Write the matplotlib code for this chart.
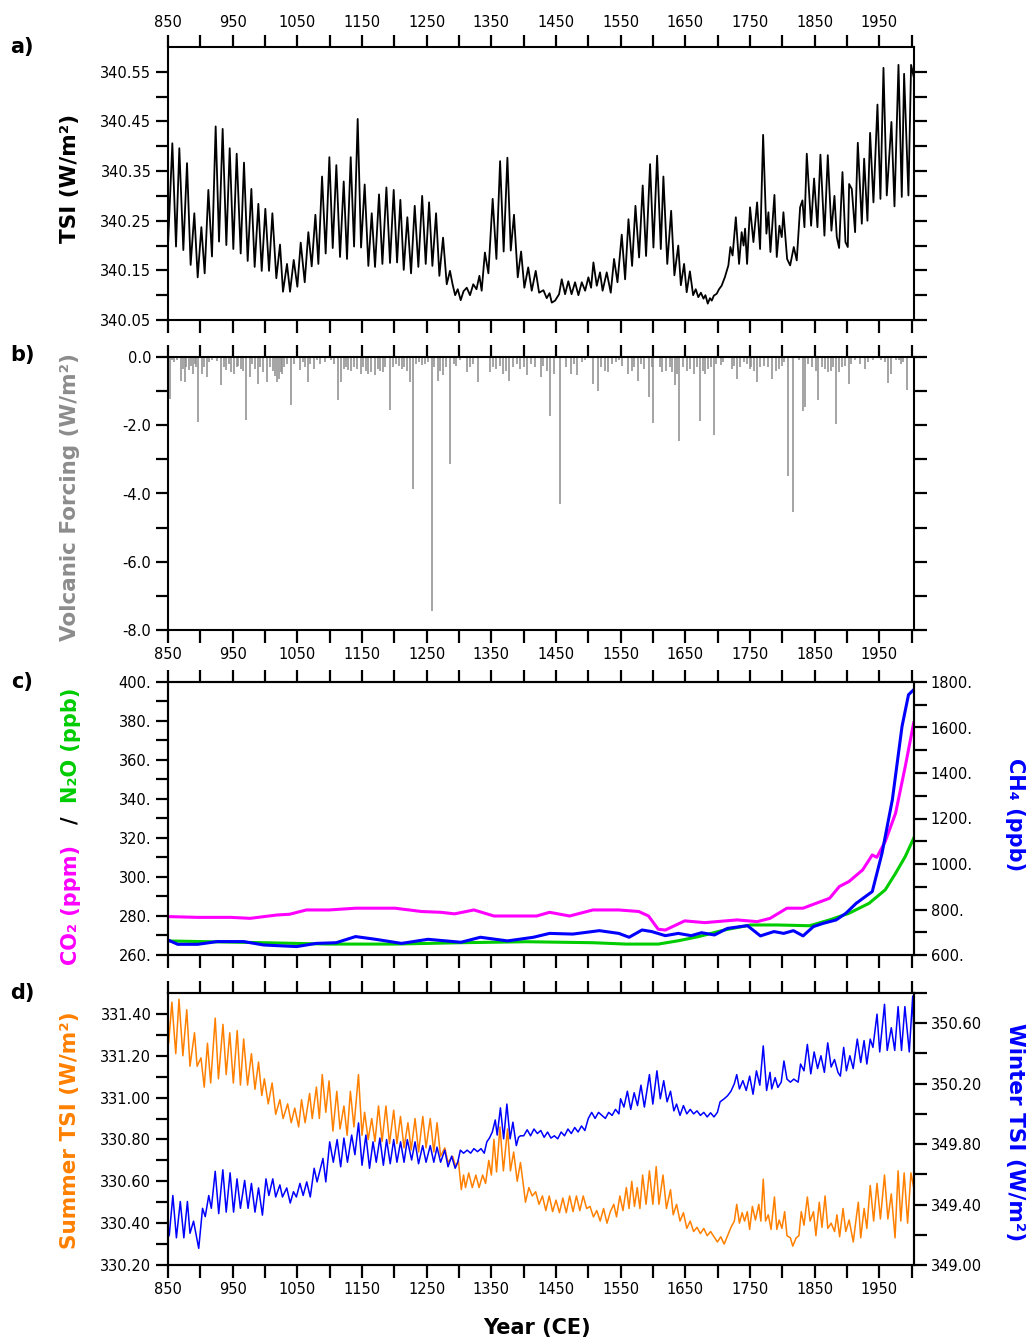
import numpy as np
import matplotlib
matplotlib.use("Agg")
import matplotlib.pyplot as plt

plt.rcParams['font.family'] = ['DejaVu Sans']

# a) total solar irradiance (cycle maxima / minima)
tsi_year = [850, 856.7, 862.4, 867.5, 873.7, 879.4, 885, 890.7, 895.9, 901.6, 906.7, 912.4, 918, 923.7,
            928.9, 934.5, 940.2, 945.4, 951, 956.2, 962.4, 967.5, 973.2, 978.9, 984, 989.7, 994.9,
            1000.5, 1006.2, 1011.4, 1017.5, 1023.2, 1027.8, 1034, 1038.7, 1044.4, 1050, 1055.2, 1061.4,
            1067, 1072.2, 1077.9, 1082.5, 1088.2, 1093.8, 1099.5, 1104.7, 1110.3, 1116, 1121.7, 1126.8,
            1132.5, 1137.7, 1143.3, 1148.5, 1154.1, 1159.8, 1165, 1170.1, 1176.3, 1181.5, 1187.7, 1193.3,
            1199, 1204.2, 1209.3, 1214.5, 1220.1, 1225.8, 1231.5, 1237.1, 1243, 1248.5, 1253.7, 1258.8,
            1264.5, 1269.6, 1275.3, 1281, 1286, 1290, 1294, 1298, 1302.6, 1307, 1312, 1317, 1322, 1327,
            1331.5, 1335, 1340, 1345.4, 1352, 1357.8, 1363.5, 1369, 1374.8, 1380, 1385, 1390.8, 1396,
            1401, 1407, 1412.4, 1418.6, 1423.8, 1430.5, 1435.6, 1440, 1443.4, 1448.5, 1454.7, 1458.8,
            1464, 1469, 1474, 1479.4, 1484.6, 1489.8, 1495, 1500, 1504.2, 1507.8, 1513, 1518, 1522,
            1528.4, 1534.6, 1539.7, 1545, 1551.6, 1556.8, 1562, 1567.6, 1572.8, 1578.4, 1584, 1589.2,
            1595.4, 1600.6, 1606.3, 1612, 1616, 1622, 1628, 1633, 1639, 1643, 1648, 1652, 1657, 1662,
            1666, 1670, 1674, 1678, 1681, 1684.6, 1688, 1690.8, 1694, 1698.5, 1702, 1706, 1711, 1716.5,
            1719.6, 1723, 1728, 1733, 1737, 1740, 1742.3, 1745.4, 1750, 1755.2, 1760.9, 1765.5, 1770.2,
            1775.3, 1778.4, 1781.5, 1787.7, 1791.3, 1795.4, 1799, 1801.6, 1807.3, 1812, 1817.6, 1822.2,
            1827.4, 1831, 1834.1, 1837.7, 1844.4, 1849, 1854.2, 1858.8, 1865, 1870.2, 1875.8, 1880.5,
            1884.1, 1887.7, 1892.9, 1897.5, 1901.1, 1903.2, 1907.3, 1912.4, 1916.6, 1922.8, 1926.4,
            1931.5, 1935.6, 1940.8, 1947, 1951.6, 1956.3, 1961.4, 1968.6, 1973.3, 1979.5, 1984.6,
            1988.2, 1994.9, 1999, 2003]
tsi_val = [340.200, 340.406, 340.198, 340.396, 340.191, 340.366, 340.161, 340.265, 340.136, 340.237,
           340.144, 340.312, 340.178, 340.440, 340.208, 340.435, 340.201, 340.396, 340.193, 340.385,
           340.184, 340.367, 340.169, 340.314, 340.157, 340.284, 340.149, 340.274, 340.149, 340.265,
           340.134, 340.202, 340.107, 340.163, 340.107, 340.171, 340.117, 340.206, 340.126, 340.227,
           340.158, 340.262, 340.163, 340.339, 340.184, 340.378, 340.195, 340.362, 340.177, 340.329,
           340.173, 340.378, 340.198, 340.455, 340.196, 340.323, 340.159, 340.265, 340.157, 340.303,
           340.163, 340.317, 340.165, 340.312, 340.166, 340.292, 340.151, 340.257, 340.144, 340.280,
           340.157, 340.300, 340.163, 340.287, 340.159, 340.265, 340.139, 340.216, 340.122, 340.149,
           340.122, 340.100, 340.112, 340.090, 340.108, 340.115, 340.100, 340.122, 340.112, 340.139,
           340.109, 340.186, 340.144, 340.294, 340.173, 340.370, 340.188, 340.377, 340.190, 340.262,
           340.136, 340.188, 340.115, 340.156, 340.109, 340.149, 340.105, 340.110, 340.094, 340.104,
           340.085, 340.089, 340.102, 340.132, 340.102, 340.128, 340.102, 340.126, 340.100, 340.126,
           340.109, 340.136, 340.115, 340.166, 340.119, 340.146, 340.109, 340.146, 340.105, 340.173,
           340.126, 340.222, 340.132, 340.253, 340.159, 340.280, 340.176, 340.321, 340.179, 340.364,
           340.196, 340.381, 340.193, 340.339, 340.163, 340.270, 340.140, 340.200, 340.120, 340.163,
           340.106, 340.148, 340.100, 340.112, 340.096, 340.105, 340.093, 340.100, 340.083, 340.094,
           340.089, 340.099, 340.103, 340.112, 340.119, 340.136, 340.160, 340.197, 340.180, 340.257,
           340.163, 340.227, 340.200, 340.234, 340.163, 340.277, 340.207, 340.287, 340.193, 340.423,
           340.224, 340.267, 340.187, 340.302, 340.177, 340.240, 340.217, 340.267, 340.173, 340.160,
           340.197, 340.170, 340.277, 340.291, 340.237, 340.385, 340.240, 340.335, 340.237, 340.383,
           340.220, 340.382, 340.230, 340.300, 340.217, 340.195, 340.348, 340.207, 340.197, 340.324,
           340.314, 340.227, 340.407, 340.244, 340.375, 340.250, 340.427, 340.287, 340.484, 340.294,
           340.558, 340.301, 340.449, 340.279, 340.564, 340.298, 340.546, 340.301, 340.564, 340.540]

# b) volcanic forcing events
volc_year = [852.7, 856, 860, 864, 869.7, 873, 876, 878, 882, 885, 888.4, 891, 893, 896.4, 901.8, 905,
             909.8, 914, 918, 925, 932.2, 936, 939.1, 944, 947, 952.4, 956, 959, 963.1, 966, 970,
             976.5, 980, 984, 989.8, 993, 997, 1003.1, 1008, 1012, 1016, 1019.2, 1021.8, 1024, 1026,
             1030, 1034, 1040.5, 1045, 1053.8, 1058, 1062, 1066.1, 1070, 1075.2, 1080, 1085, 1093,
             1102, 1106, 1112.5, 1117.9, 1122, 1125, 1128.5, 1133, 1138, 1142, 1148.8, 1152, 1156,
             1160, 1164, 1170.2, 1175, 1178, 1181.9, 1186, 1192.6, 1198, 1203, 1207, 1211.2, 1215,
             1219, 1223.5, 1228.9, 1234, 1238, 1243.3, 1248, 1252, 1258.2, 1262, 1267.3, 1270, 1275.3,
             1280, 1286, 1292, 1296, 1302, 1312.6, 1317, 1322, 1329.7, 1347.4, 1352, 1357, 1363,
             1368.6, 1372, 1376.5, 1384, 1390, 1395, 1400, 1405.4, 1412, 1418, 1426.4, 1430, 1436,
             1441.1, 1447.4, 1455.8, 1466, 1473.6, 1478, 1483.1, 1490, 1495, 1506.7, 1514.6, 1520,
             1525, 1530.4, 1537, 1542, 1548, 1552, 1561.9, 1567, 1571, 1576, 1582, 1586, 1593.4, 1598,
             1600.2, 1610, 1614.4, 1620, 1626, 1630, 1633.8, 1637, 1640.6, 1646, 1653, 1657, 1663.8,
             1668, 1673.2, 1677, 1681.1, 1685, 1690, 1694.2, 1698, 1704.7, 1708, 1722, 1725, 1729.9,
             1735, 1740, 1745, 1749.4, 1752, 1756, 1761.4, 1766, 1771, 1778, 1783.5, 1790, 1795,
             1800, 1803, 1808.7, 1816.1, 1825, 1831.8, 1835, 1840, 1846, 1852, 1855.5, 1862, 1866,
             1870.2, 1875, 1879, 1883.3, 1887, 1892, 1897, 1902.7, 1906, 1912, 1920, 1927.9, 1932,
             1940, 1952, 1958, 1963.6, 1968, 1975, 1980, 1983, 1986, 1992]
volc_val = [-1.22, -0.10, -0.15, -0.10, -0.69, -0.35, -0.73, -0.30, -0.39, -0.25, -0.49, -0.20, -0.30,
            -1.91, -0.49, -0.30, -0.59, -0.15, -0.10, -0.12, -0.83, -0.30, -0.39, -0.20, -0.45, -0.49,
            -0.30, -0.25, -0.34, -0.40, -1.86, -0.59, -0.20, -0.35, -0.78, -0.30, -0.45, -0.73, -0.30,
            -0.40, -0.55, -0.73, -0.64, -0.45, -0.49, -0.30, -0.20, -1.42, -0.20, -0.39, -0.15, -0.30,
            -0.73, -0.20, -0.34, -0.10, -0.20, -0.15, -0.10, -0.20, -1.25, -0.73, -0.35, -0.30, -0.39,
            -0.40, -0.30, -0.35, -0.49, -0.30, -0.40, -0.50, -0.45, -0.54, -0.35, -0.40, -0.44, -0.30,
            -1.55, -0.30, -0.20, -0.25, -0.34, -0.30, -0.40, -0.73, -3.87, -0.20, -0.15, -0.24, -0.20,
            -0.15, -7.44, -0.30, -0.69, -0.40, -0.54, -0.30, -3.13, -0.20, -0.25, -0.10, -0.44, -0.30,
            -0.20, -0.73, -0.44, -0.30, -0.35, -0.25, -0.49, -0.40, -0.69, -0.30, -0.20, -0.35, -0.30,
            -0.54, -0.20, -0.30, -0.59, -0.25, -0.40, -1.74, -0.49, -4.31, -0.30, -0.49, -0.20, -0.54,
            -0.15, -0.10, -0.80, -1.01, -0.30, -0.40, -0.44, -0.20, -0.15, -0.10, -0.25, -0.49, -0.40,
            -0.30, -0.69, -0.20, -0.35, -1.17, -0.30, -1.93, -0.30, -0.44, -0.40, -0.30, -0.45, -0.83,
            -0.50, -2.45, -0.30, -0.40, -0.35, -0.49, -0.30, -1.88, -0.40, -0.49, -0.35, -0.30, -2.28,
            -0.20, -0.24, -0.15, -0.35, -0.25, -0.64, -0.30, -0.15, -0.20, -0.34, -0.30, -0.40, -0.73,
            -0.30, -0.25, -0.30, -0.64, -0.40, -0.34, -0.25, -0.15, -3.50, -4.55, -0.10, -1.57, -1.47,
            -0.20, -0.30, -0.40, -1.25, -0.30, -0.35, -0.44, -0.40, -0.30, -1.96, -0.45, -0.30, -0.25,
            -0.78, -0.20, -0.10, -0.20, -0.34, -0.15, -0.10, -0.10, -0.15, -0.76, -0.50, -0.10, -0.10,
            -0.20, -0.15, -0.96]

# c) greenhouse gases
co2_year = [850, 896, 947, 977, 1018, 1038, 1064, 1099, 1140, 1201, 1242, 1272, 1293, 1323, 1354,
            1395, 1420, 1440, 1471, 1507, 1547, 1578, 1593, 1608, 1619, 1649, 1680, 1730, 1761, 1781,
            1807, 1832, 1852, 1873, 1888, 1903, 1924, 1939, 1946, 1959, 1975, 1990, 2003]
co2_ppm = [279.7, 279.3, 279.3, 278.8, 280.5, 280.9, 283.1, 283.1, 284.0, 284.0, 282.3, 281.9, 281.1,
           283.1, 280.0, 280.0, 280.0, 281.9, 280.0, 283.1, 283.1, 282.3, 280.0, 273.2, 272.8, 277.5,
           276.6, 278.0, 277.1, 278.8, 284.0, 284.0, 286.5, 289.1, 295.1, 297.7, 303.6, 311.3, 310.1,
           318.2, 332.7, 356.7, 379.0]
n2o_year = [850, 998, 1099, 1201, 1303, 1405, 1507, 1558, 1608, 1639, 1670, 1710, 1751, 1792, 1842,
            1873, 1903, 1934, 1959, 1975, 1990, 2003]
n2o_ppb = [267.2, 266.3, 265.6, 265.6, 266.3, 266.8, 266.3, 265.6, 265.6, 267.3, 269.4, 272.8, 275.4,
           275.4, 275.0, 278.0, 281.4, 286.5, 293.4, 301.9, 310.5, 319.9]
ch4_year = [850, 865, 896, 926, 967, 998, 1049, 1079, 1110, 1140, 1171, 1211, 1252, 1303, 1333, 1375,
            1415, 1440, 1476, 1517, 1547, 1563, 1583, 1598, 1619, 1639, 1659, 1675, 1695, 1715, 1746,
            1766, 1787, 1802, 1817, 1832, 1848, 1863, 1883, 1898, 1914, 1939, 1954, 1970, 1985, 1995,
            2003]
ch4_ppb = [666, 647, 647, 659, 659, 644, 637, 651, 654, 681, 669, 651, 669, 656, 678, 662, 678, 695,
           692, 707, 695, 678, 710, 703, 685, 695, 685, 698, 688, 717, 729, 684, 703, 695, 707, 684,
           725, 739, 754, 783, 827, 879, 1047, 1282, 1605, 1744, 1766]

# d) seasonal insolation
summer_year = [850, 851, 856, 862, 867, 873, 879, 884, 891, 895, 901, 906, 911, 916, 923, 928, 935, 940,
               945.5, 951, 957, 962, 967, 973, 979, 984.5, 990, 995, 999, 1005, 1011, 1016.5, 1023,
               1028, 1035, 1040.5, 1046, 1052, 1056.5, 1062, 1069, 1073, 1079.5, 1084, 1088.5, 1094,
               1099, 1105, 1111, 1116, 1122, 1127, 1132, 1137.5, 1144.5, 1150, 1154, 1159.5, 1165,
               1170, 1175.5, 1181, 1187, 1192.5, 1199, 1204, 1209.5, 1215, 1221, 1226, 1232, 1237.5,
               1244, 1249, 1255.5, 1261, 1266, 1271.5, 1278, 1283, 1290, 1295, 1299, 1303.5, 1307, 1310,
               1315, 1320.5, 1326, 1331, 1336.5, 1341, 1346, 1350, 1354, 1358, 1363.3, 1368.6, 1375,
               1379.5, 1384.5, 1390, 1395, 1400, 1402.7, 1408, 1413.2, 1418.5, 1423.7, 1429, 1434.2,
               1439.5, 1444.7, 1450, 1455.3, 1460.5, 1465.8, 1471, 1476.3, 1481.5, 1486.8, 1492, 1497.3,
               1502.5, 1507.8, 1513, 1518.3, 1523.5, 1528.8, 1534, 1539.3, 1543.5, 1548.7, 1553.5,
               1558.7, 1562.9, 1567.1, 1571.3, 1575.5, 1579.7, 1583.9, 1589.2, 1594.4, 1599.7, 1604.9,
               1609.1, 1615.4, 1620.7, 1627, 1631.2, 1636.4, 1641.7, 1647, 1652.2, 1657.5, 1662.7, 1668,
               1673.2, 1678.5, 1683.7, 1689, 1694.2, 1699.5, 1704.7, 1710, 1715.2, 1720.5, 1725.7,
               1729.4, 1733.6, 1737.8, 1741.5, 1745.7, 1749.4, 1753.6, 1758.3, 1763.5, 1766.7, 1770.4,
               1774, 1778.2, 1782.5, 1787.7, 1791.4, 1795, 1799.3, 1803.5, 1807.1, 1812.4, 1816, 1821.3,
               1825.5, 1829.2, 1833.4, 1838.6, 1842.8, 1848.1, 1851.8, 1857, 1861.2, 1866, 1870.2,
               1875.4, 1880.7, 1884.3, 1888.5, 1893.8, 1898, 1903.2, 1909.6, 1914.8, 1917.4, 1921.1,
               1926.4, 1930.6, 1935.8, 1941.1, 1946.3, 1951.6, 1957.9, 1963.1, 1968.4, 1974.2, 1978.9,
               1983.1, 1988.3, 1993.6, 1998.8, 2003]
summer_tsi = [331.32, 331.26, 331.456, 331.21, 331.47, 331.20, 331.42, 331.15, 331.31, 331.15, 331.19,
              331.05, 331.26, 331.07, 331.38, 331.09, 331.35, 331.11, 331.31, 331.07, 331.32, 331.06,
              331.28, 331.06, 331.21, 331.04, 331.17, 331.01, 331.09, 330.97, 331.07, 330.92, 330.99,
              330.90, 330.97, 330.88, 330.95, 330.86, 330.99, 330.88, 331.02, 330.90, 331.05, 330.90,
              331.11, 330.93, 331.08, 330.84, 331.03, 330.85, 330.96, 330.82, 331.03, 330.86, 331.11,
              330.82, 330.93, 330.80, 330.90, 330.79, 330.96, 330.79, 330.96, 330.78, 330.94, 330.78,
              330.91, 330.76, 330.88, 330.75, 330.90, 330.74, 330.91, 330.76, 330.90, 330.74, 330.88,
              330.72, 330.76, 330.69, 330.72, 330.67, 330.70, 330.56, 330.63, 330.57, 330.64, 330.57,
              330.63, 330.57, 330.63, 330.59, 330.70, 330.63, 330.80, 330.645, 330.86, 330.65, 330.85,
              330.65, 330.74, 330.60, 330.69, 330.57, 330.50, 330.57, 330.53, 330.55, 330.49, 330.53,
              330.46, 330.53, 330.455, 330.51, 330.45, 330.52, 330.45, 330.53, 330.455, 330.53, 330.46,
              330.53, 330.47, 330.48, 330.43, 330.46, 330.41, 330.47, 330.40, 330.455, 330.49, 330.43,
              330.53, 330.46, 330.57, 330.47, 330.60, 330.48, 330.57, 330.47, 330.63, 330.49, 330.65,
              330.49, 330.67, 330.49, 330.63, 330.47, 330.56, 330.44, 330.49, 330.41, 330.45, 330.375,
              330.41, 330.36, 330.38, 330.35, 330.375, 330.34, 330.36, 330.335, 330.31, 330.335, 330.30,
              330.34, 330.38, 330.41, 330.49, 330.40, 330.45, 330.41, 330.455, 330.37, 330.48, 330.415,
              330.49, 330.41, 330.61, 330.41, 330.44, 330.37, 330.525, 330.37, 330.415, 330.375,
              330.455, 330.34, 330.33, 330.29, 330.33, 330.34, 330.455, 330.39, 330.525, 330.41,
              330.455, 330.34, 330.50, 330.38, 330.53, 330.375, 330.40, 330.36, 330.44, 330.335, 330.47,
              330.36, 330.415, 330.31, 330.44, 330.50, 330.33, 330.47, 330.375, 330.58, 330.41, 330.59,
              330.42, 330.63, 330.42, 330.54, 330.33, 330.65, 330.41, 330.64, 330.40, 330.64, 330.57]
winter_year = [850, 852, 857.5, 863, 869, 874.5, 880, 884, 889.5, 897.5, 903.4, 907.6, 913, 917, 923,
               928.4, 934.8, 940, 946, 951.4, 956.7, 962, 968.5, 973.8, 979, 984.5, 990, 996, 1001.5,
               1006, 1012, 1016.5, 1023, 1027, 1033.6, 1039, 1044, 1048.5, 1054, 1059, 1064.5, 1070,
               1076, 1080.5, 1089.6, 1094, 1100, 1105.6, 1111.5, 1117, 1122, 1127.5, 1134, 1139,
               1144.6, 1150, 1156, 1161.6, 1167, 1172, 1177.6, 1183, 1188, 1193.6, 1199, 1204, 1209.6,
               1215, 1220, 1226.7, 1232, 1237.4, 1243.8, 1249, 1255.5, 1261, 1266, 1271.5, 1278, 1283,
               1288.6, 1294, 1298, 1302, 1307, 1312.6, 1318, 1323, 1328.6, 1334, 1339, 1343, 1347,
               1351.5, 1356, 1359, 1364, 1369, 1374, 1379, 1383.3, 1388.6, 1392, 1395, 1400, 1405.4,
               1410.6, 1415.9, 1421.1, 1426.4, 1431.6, 1436.9, 1442.1, 1447.4, 1452.6, 1457.9, 1463.1,
               1468.4, 1473.6, 1478.9, 1484.1, 1489.4, 1494.6, 1499.9, 1505.1, 1510.4, 1515.7, 1520.9,
               1526.2, 1531.4, 1536.7, 1541.9, 1547.2, 1549.8, 1555, 1560.3, 1565.5, 1570.8, 1576,
               1581.3, 1586.6, 1594.4, 1599.7, 1606, 1611.2, 1616.5, 1621.7, 1627, 1632.2, 1636.4,
               1641.7, 1647, 1652.2, 1657.5, 1662.7, 1668, 1673.2, 1678.5, 1683.7, 1689, 1694.2, 1699.5,
               1703.7, 1710, 1715.2, 1720.5, 1725.7, 1729.4, 1733.6, 1738.9, 1744.1, 1749.4, 1754.6,
               1759.9, 1765.1, 1770.4, 1775.6, 1780.9, 1783.5, 1788.8, 1793, 1798.2, 1802.4, 1807.1,
               1812.4, 1817.6, 1824.4, 1828.1, 1833.4, 1838.6, 1843.9, 1849.1, 1854.4, 1859.6, 1864.9,
               1870.1, 1875.4, 1880.6, 1885.9, 1889.6, 1894.8, 1899, 1904.3, 1909.5, 1915.8, 1921.1,
               1926.3, 1930.6, 1935.8, 1940, 1946.3, 1950.5, 1957.9, 1962.1, 1968.4, 1973.7, 1978.9,
               1984.2, 1989.4, 1996.2, 2001.5, 2003]
winter_tsi = [349.18, 349.20, 349.46, 349.18, 349.42, 349.18, 349.42, 349.21, 349.29, 349.11, 349.375,
              349.32, 349.46, 349.375, 349.62, 349.34, 349.63, 349.35, 349.61, 349.35, 349.57, 349.375,
              349.56, 349.375, 349.54, 349.35, 349.51, 349.33, 349.57, 349.46, 349.57, 349.45, 349.53,
              349.45, 349.51, 349.41, 349.485, 349.45, 349.54, 349.46, 349.55, 349.45, 349.64, 349.55,
              349.705, 349.55, 349.815, 349.68, 349.83, 349.65, 349.84, 349.68, 349.86, 349.73, 349.94,
              349.66, 349.86, 349.64, 349.815, 349.68, 349.84, 349.66, 349.83, 349.67, 349.83, 349.68,
              349.815, 349.68, 349.83, 349.695, 349.815, 349.67, 349.79, 349.68, 349.79, 349.68, 349.78,
              349.68, 349.76, 349.65, 349.72, 349.64, 349.68, 349.76, 349.74, 349.76, 349.74, 349.77,
              349.75, 349.77, 349.74, 349.815, 349.84, 349.88, 349.96, 349.86, 350.04, 349.835, 350.065,
              349.835, 349.945, 349.79, 349.845, 349.855, 349.855, 349.895, 349.855, 349.90, 349.87,
              349.89, 349.845, 349.88, 349.84, 349.855, 349.835, 349.88, 349.855, 349.90, 349.87,
              349.91, 349.88, 349.92, 349.89, 349.97, 350.01, 349.97, 350.01, 349.99, 349.97, 350.01,
              349.99, 350.03, 350.00, 350.10, 350.045, 350.15, 350.03, 350.14, 350.055, 350.19, 350.045,
              350.26, 350.065, 350.285, 350.10, 350.22, 350.08, 350.15, 350.02, 350.065, 349.99,
              350.055, 350.00, 350.03, 350.00, 350.02, 349.99, 350.01, 349.98, 350.007, 349.98, 350.01,
              350.08, 350.10, 350.12, 350.15, 350.20, 350.26, 350.165, 350.22, 350.155, 350.25, 350.13,
              350.285, 350.19, 350.45, 350.155, 350.275, 350.165, 350.24, 350.175, 350.21, 350.35,
              350.23, 350.21, 350.23, 350.21, 350.33, 350.285, 350.46, 350.265, 350.41, 350.30, 350.385,
              350.275, 350.47, 350.31, 350.36, 350.275, 350.25, 350.44, 350.285, 350.385, 350.30,
              350.495, 350.34, 350.485, 350.33, 350.495, 350.44, 350.66, 350.41, 350.725, 350.42,
              350.57, 350.42, 350.71, 350.42, 350.71, 350.41, 350.78, 350.56]

W, H = 1032, 1342
fig = plt.figure(figsize=(W / 100, H / 100), dpi=100)


def box(top, bottom):
    return [168 / W, 1 - bottom / H, (914 - 168) / W, (bottom - top) / H]


def set_years(ax, top_labels=False, bottom_labels=False):
    ticks = list(range(850, 2001, 50))
    ax.set_xlim(850, 2003.5)
    ax.set_xticks(ticks)
    ax.set_xticklabels([str(t) if (t - 850) % 100 == 0 else '' for t in ticks])
    ax.tick_params(axis='x', which='both', direction='out', top=True, bottom=True,
                   labeltop=top_labels, labelbottom=bottom_labels, length=9, width=1.6,
                   labelsize=10.5, pad=3)


def set_values(ax, lo, hi, step, every, fmt, side='left'):
    ticks = np.round(np.arange(lo, hi + step / 2, step), 4)
    ax.set_yticks(ticks)
    ax.set_yticklabels([fmt.format(t) if i % every == 0 else '' for i, t in enumerate(ticks)])
    if side == 'left':
        ax.tick_params(axis='y', direction='out', left=True, right=False, labelleft=True,
                       labelright=False, length=9, width=1.6, labelsize=10.5, pad=3)
    else:
        ax.tick_params(axis='y', direction='out', left=False, right=True, labelleft=False,
                       labelright=True, length=9, width=1.6, labelsize=10.5, pad=3)


def plain_right(ax):
    ax.tick_params(axis='y', which='both', right=True, direction='out', length=9, width=1.6)


def frame(ax):
    for s in ax.spines.values():
        s.set_linewidth(1.5)


# panel a
ax_a = fig.add_axes(box(47, 320))
ax_a.plot(tsi_year, tsi_val, color='black', lw=1.3)
ax_a.set_ylim(340.05, 340.60)
set_values(ax_a, 340.05, 340.55, 0.05, 2, '{:.2f}')
plain_right(ax_a)
set_years(ax_a, top_labels=True)
frame(ax_a)

# panel b
ax_b = fig.add_axes(box(357, 630))
ax_b.vlines(volc_year, volc_val, 0, color='#8c8c8c', lw=1.1)
ax_b.set_ylim(-8.0, 0.0)
set_values(ax_b, -8.0, 0.0, 1.0, 2, '{:.1f}')
plain_right(ax_b)
set_years(ax_b, bottom_labels=True)
frame(ax_b)

# panel c
ax_c = fig.add_axes(box(682, 955))
ax_c.plot(co2_year, co2_ppm, color='#ff00ff', lw=2.2)
ax_c.plot(n2o_year, n2o_ppb, color='#00cc00', lw=2.2)
ax_c.set_ylim(260, 400)
set_values(ax_c, 260, 400, 10, 2, '{:.0f}.')
set_years(ax_c)
ax_c2 = ax_c.twinx()
ax_c2.plot(ch4_year, ch4_ppb, color='#0000ff', lw=2.2)
ax_c2.set_ylim(600, 1800)
set_values(ax_c2, 600, 1800, 100, 2, '{:.0f}.', side='right')
frame(ax_c)
frame(ax_c2)

# panel d
ax_d = fig.add_axes(box(993, 1265))
ax_d.plot(summer_year, summer_tsi, color='#ff8000', lw=1.1)
ax_d.set_ylim(330.20, 331.50)
set_values(ax_d, 330.20, 331.40, 0.1, 2, '{:.2f}')
set_years(ax_d, bottom_labels=True)
ax_d2 = ax_d.twinx()
ax_d2.plot(winter_year, winter_tsi, color='#0000ff', lw=1.1)
ax_d2.set_ylim(349.0, 350.8)
set_values(ax_d2, 349.0, 350.8, 0.2, 2, '{:.2f}', side='right')
frame(ax_d)
frame(ax_d2)


def ftext(x, y, s, **kw):
    kw.setdefault('fontweight', 'bold')
    fig.text(x / W, 1 - y / H, s, ha='center', va='center', **kw)


for letter, y in [('a)', 47), ('b)', 355), ('c)', 682), ('d)', 993)]:
    ftext(22, y, letter, fontsize=15)

ftext(70, 178, 'TSI (W/m²)', fontsize=15.5, rotation=90)
ftext(70, 497, 'Volcanic Forcing (W/m²)', fontsize=15.5, rotation=90, color='#8c8c8c')
ftext(71, 905, 'CO₂ (ppm)', fontsize=15, rotation=90, color='#ff00ff')
ftext(71, 820, '/', fontsize=15, rotation=90, color='black')
ftext(71, 745, 'N₂O (ppb)', fontsize=15, rotation=90, color='#00cc00')
ftext(1015, 815, 'CH₄ (ppb)', fontsize=15, rotation=-90, color='#0000ff')
ftext(70, 1130, 'Summer TSI (W/m²)', fontsize=15.5, rotation=90, color='#ff8000')
ftext(1015, 1132, 'Winter TSI (W/m²)', fontsize=15.5, rotation=-90, color='#0000ff')
ftext(537, 1328, 'Year (CE)', fontsize=15)

fig.savefig('out.png', dpi=100)
